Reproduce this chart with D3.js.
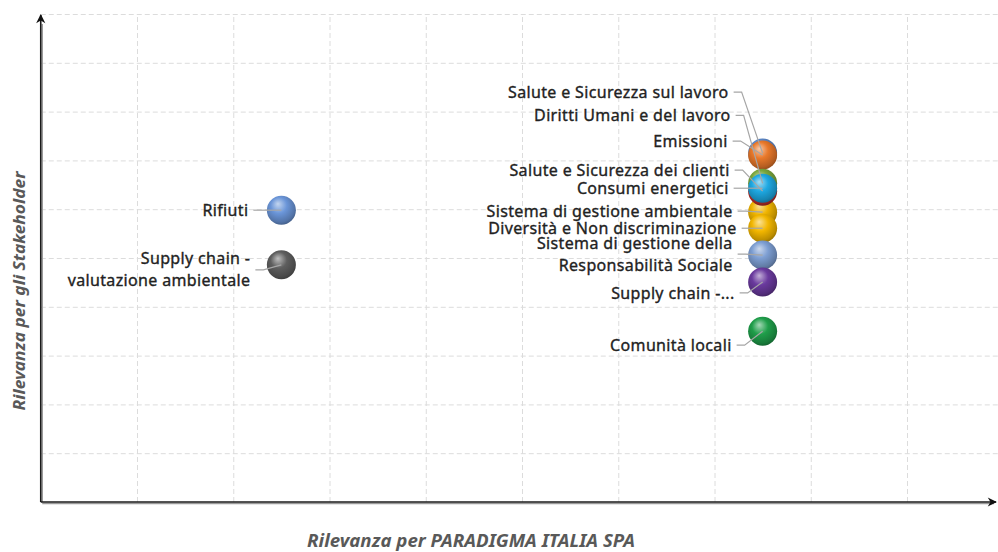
<!DOCTYPE html>
<html>
<head>
<meta charset="utf-8">
<script src="https://cdn.jsdelivr.net/npm/d3@7"></script>
<style>
  body { margin: 0; background: #fff; }
  svg { display: block; font-family: "Noto Sans", "Open Sans", sans-serif; }
  .grid line { stroke: #dcdcdc; stroke-dasharray: 5,3; }
  .grid path { display: none; }
  .lbl { font-size: 16px; fill: #222; stroke: #222; stroke-width: 0.35px; letter-spacing: 0.35px; }
  .leader { stroke: #a6a6a6; stroke-width: 1.2; fill: none; }
  .title { font-weight: bold; font-style: italic; fill: #595959; }
</style>
</head>
<body>
<svg width="998" height="552"></svg>
<script>
// topics, in drawing order (back to front)
const topics = [
  "Salute e Sicurezza sul lavoro",
  "Emissioni",
  "Diritti Umani e del lavoro",
  "Sistema di gestione ambientale",
  "Salute e Sicurezza dei clienti",
  "Consumi energetici",
  "Diversità e Non discriminazione",
  "Sistema di gestione della\nResponsabilità Sociale",
  "Supply chain -...",
  "Comunità locali",
  "Rifiuti",
  "Supply chain -\nvalutazione ambientale"
];
// rilevanza per l'azienda (x)
const relAzienda = [7.5, 7.5, 7.5, 7.5, 7.5, 7.5, 7.5, 7.5, 7.5, 7.5, 2.5, 2.5];
// rilevanza per gli stakeholder (y)
const relStakeholder = [7.15, 7.11, 6.53, 5.94, 6.37, 6.43, 5.61, 5.06, 4.51, 3.50, 5.98, 4.86];

const ballColors = ["#5b87c8", "#e8782a", "#7aa63c", "#efb400", "#c0302a", "#1ea8e2",
                    "#f2b600", "#7d9ed2", "#6a3a9e", "#1f9e4a", "#6a95d8", "#5e5e5e"];
// label offset from bubble centre [dx of text end, dy]
const labelOffset = [[-34,-61],[-35,-14],[-32,-68],[-30,-1],[-33,-21],[-34,0],
                     [-26,0],[-30,-1],[-28,11],[-31,14],[-33,0],[-31,5]];

const svg = d3.select("svg");
const W = 998, H = 552;
const x = d3.scaleLinear().domain([0, 10]).range([40.75, 1003.25]);
const y = d3.scaleLinear().domain([0, 10]).range([502, 14]);
const r = 14.5;

const defs = svg.append("defs");
ballColors.forEach((c, i) => {
  const g = defs.append("radialGradient").attr("id", "ball" + i)
    .attr("cx", "45%").attr("cy", "40%").attr("r", "62%")
    .attr("fx", "38%").attr("fy", "28%");
  const base = d3.color(c);
  g.append("stop").attr("offset", "0%").attr("stop-color", d3.interpolateRgb(c, "#fff")(0.6));
  g.append("stop").attr("offset", "45%").attr("stop-color", c);
  g.append("stop").attr("offset", "85%").attr("stop-color", base.darker(0.7));
  g.append("stop").attr("offset", "100%").attr("stop-color", base.darker(1.3));
});
defs.append("marker").attr("id", "arrow")
  .attr("viewBox", "-10 -6 12 12").attr("refX", 0).attr("refY", 0)
  .attr("markerWidth", 11).attr("markerHeight", 11)
  .attr("markerUnits", "userSpaceOnUse").attr("orient", "auto")
  .append("path").attr("d", "M1,0 L-9,-5 L-6,0 L-9,5 Z").attr("fill", "#111");

// grid
svg.append("g").attr("class", "grid")
  .attr("transform", `translate(${x(0)},0)`)
  .call(d3.axisLeft(y).tickValues(d3.range(1, 11)).tickSize(-(W - x(0))).tickFormat(""));
svg.append("g").attr("class", "grid")
  .attr("transform", `translate(0,${y(0)})`)
  .call(d3.axisBottom(x).tickValues(d3.range(1, 10)).tickSize(-(y(0) - y(10))).tickFormat(""));

// axes with arrows
const axisG = svg.append("g");
axisG.append("line").attr("x1", x(0) + 1.5).attr("y1", y(0) + 1.5).attr("x2", 994).attr("y2", y(0) + 1.5)
  .attr("stroke", "#9a9a9a").attr("stroke-width", 1.5);
axisG.append("line").attr("x1", x(0) + 1.5).attr("y1", y(0)).attr("x2", x(0) + 1.5).attr("y2", y(10) + 10)
  .attr("stroke", "#9a9a9a").attr("stroke-width", 1.5);
axisG.append("line").attr("x1", x(0)).attr("y1", y(0)).attr("x2", 996).attr("y2", y(0))
  .attr("stroke", "#1a1a1a").attr("stroke-width", 1.6).attr("marker-end", "url(#arrow)");
axisG.append("line").attr("x1", x(0)).attr("y1", y(0)).attr("x2", x(0)).attr("y2", y(10) + 1)
  .attr("stroke", "#1a1a1a").attr("stroke-width", 1.6).attr("marker-end", "url(#arrow)");

// bubbles
const pts = topics.map((t, i) => ({ t, i, cx: x(relAzienda[i]), cy: y(relStakeholder[i]) }));
svg.append("g").selectAll("circle").data(pts).join("circle")
  .attr("cx", d => d.cx).attr("cy", d => d.cy).attr("r", r)
  .attr("fill", d => `url(#ball${d.i})`);

// leader lines + labels
const lab = svg.append("g");
pts.forEach(d => {
  const [dx, dy] = labelOffset[d.i];
  const ex = d.cx + dx, ly = d.cy + dy;
  lab.append("path").attr("class", "leader")
    .attr("d", `M${ex + 5},${ly}H${ex + 13}L${d.cx},${d.cy}`);
  const lines = d.t.split("\n");
  const txt = lab.append("text").attr("class", "lbl").attr("text-anchor", "end")
    .attr("x", ex).attr("y", ly - (lines.length - 1) * 11);
  lines.forEach((s, k) => txt.append("tspan").attr("x", ex).attr("dy", k === 0 ? "0.35em" : 22).text(s));
});

// titles
svg.append("text").attr("class", "title")
  .attr("transform", "translate(20,291) rotate(-90)")
  .attr("text-anchor", "middle").attr("dy", "0.35em")
  .style("font-size", "15.5px").attr("textLength", 239).attr("lengthAdjust", "spacingAndGlyphs")
  .text("Rilevanza per gli Stakeholder");
svg.append("text").attr("class", "title")
  .attr("x", 471).attr("y", 541).attr("dy", "0.35em")
  .attr("text-anchor", "middle")
  .style("font-size", "17px").attr("textLength", 328).attr("lengthAdjust", "spacingAndGlyphs")
  .text("Rilevanza per PARADIGMA ITALIA SPA");
</script>
</body>
</html>
